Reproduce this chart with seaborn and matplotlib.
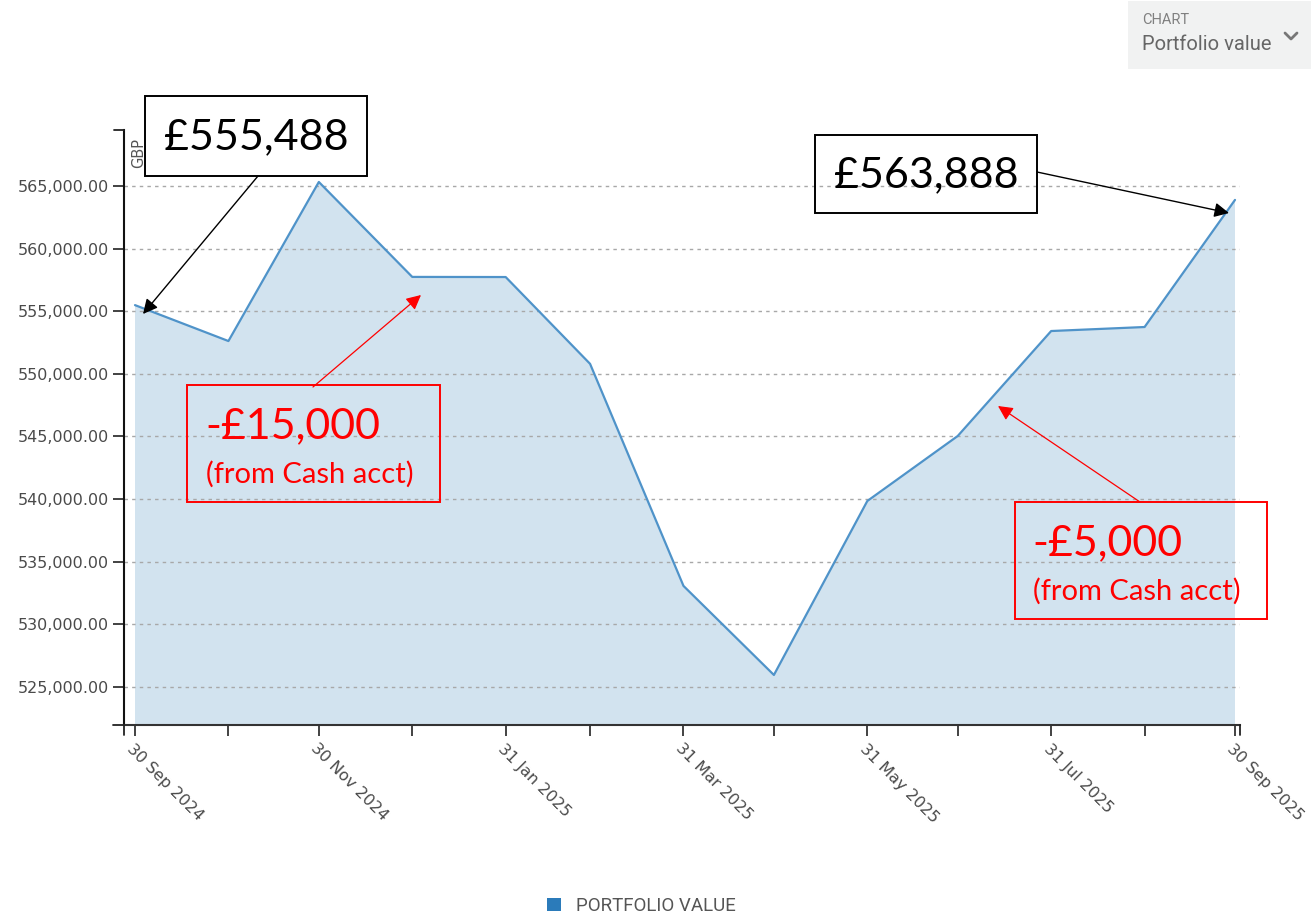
import pandas as pd
import numpy as np
import matplotlib.pyplot as plt
import matplotlib.dates as mdates
from matplotlib.patches import Rectangle, Patch, FancyArrowPatch
from matplotlib.lines import Line2D
import seaborn as sns

# Data (month-end portfolio value, GBP)
dates = ["2024-09-30", "2024-10-31", "2024-11-30", "2024-12-31", "2025-01-31",
         "2025-02-28", "2025-03-31", "2025-04-30", "2025-05-31", "2025-06-30",
         "2025-07-31", "2025-08-31", "2025-09-30"]
values = [555488, 552620, 565320, 557740, 557730,
          550800, 533070, 525960, 539850, 545040,
          553420, 553740, 563888]
major_ticks = ["2024-09-30", "2024-11-30", "2025-01-31", "2025-03-31",
               "2025-05-31", "2025-07-31", "2025-09-30"]
minor_ticks = ["2024-10-31", "2024-12-31", "2025-02-28", "2025-04-30",
               "2025-06-30", "2025-08-31"]
y_ticks = [525000, 530000, 535000, 540000, 545000, 550000, 555000, 560000, 565000]

df = pd.DataFrame({"date": pd.to_datetime(dates), "value": values})

sns.set_style("white")
plt.rcParams["font.family"] = ["Roboto", "DejaVu Sans"]

W, H = 1311, 918
fig = plt.figure(figsize=(W / 100, H / 100), dpi=100)


def fx(px):
    return px / W


def fy(py):
    return 1 - py / H


ax = fig.add_axes([fx(124), fy(725), fx(1240) - fx(124), fy(130) - fy(725)])

line_col = "#4f93c9"
fill_col = "#d2e3ef"

ax.fill_between(df["date"], df["value"], 0, color=fill_col, linewidth=0, zorder=1)
sns.lineplot(data=df, x="date", y="value", ax=ax, color=line_col, linewidth=1.6, zorder=2)

ax.set_ylim(521965, 569470)
ax.set_xlim(df["date"].iloc[0] - pd.Timedelta(days=3.65),
            df["date"].iloc[-1] + pd.Timedelta(days=1.66))

ax.set_yticks(y_ticks)
ax.set_yticklabels([f"{v:,.2f}" for v in y_ticks])
ax.set_xticks(pd.to_datetime(major_ticks))
ax.set_xticklabels([pd.Timestamp(d).strftime("%d %b %Y") for d in major_ticks])
ax.set_xticks(pd.to_datetime(minor_ticks), minor=True)

ax.set_axisbelow("line")
ax.yaxis.grid(True, linestyle=(0, (2.5, 3)), color="#a8a8a8", linewidth=1)
ax.xaxis.grid(False)

tick_font = "DejaVu Sans"
ax.tick_params(axis="y", which="major", length=8, width=1.2, color="#222222",
               labelsize=11.5, labelcolor="#4a4a4a", pad=3, direction="out", left=True)
ax.tick_params(axis="x", which="both", length=8, width=1.2, color="#222222",
               labelsize=11.5, labelcolor="#4a4a4a", bottom=True, direction="out")
for lbl in ax.get_yticklabels():
    lbl.set_family(tick_font)
for lbl in ax.get_xticklabels():
    lbl.set_family(tick_font)
    lbl.set_rotation(-45)
    lbl.set_ha("left")
    lbl.set_va("top")
    lbl.set_rotation_mode("anchor")

for s in ["top", "right"]:
    ax.spines[s].set_visible(False)
ax.spines["left"].set_color("#111111")
ax.spines["left"].set_linewidth(1.5)
ax.spines["bottom"].set_color("#333333")
ax.spines["bottom"].set_linewidth(1.5)
ax.set_xlabel("")
ax.set_ylabel("")

# d3-style outer ticks at the axis ends
ext = dict(color="#222222", linewidth=1.3, transform=fig.transFigure, clip_on=False)
fig.add_artist(Line2D([fx(113), fx(124)], [fy(725), fy(725)], **ext))
fig.add_artist(Line2D([fx(124), fx(124)], [fy(725), fy(735)], **ext))
fig.add_artist(Line2D([fx(114), fx(124)], [fy(130), fy(130)], **ext))
fig.add_artist(Line2D([fx(1240), fx(1240)], [fy(725), fy(735)], **ext))

fig.text(fx(139), fy(153), "GBP", rotation=90, ha="center", va="center",
         fontsize=10.5, color="#555555", family=tick_font)

# callout boxes
calibri = ["Lato", "DejaVu Sans"]


def box(x0, y0, x1, y1, col):
    fig.add_artist(Rectangle((fx(x0), fy(y1)), fx(x1) - fx(x0), fy(y0) - fy(y1),
                             transform=fig.transFigure, fill=False,
                             edgecolor=col, linewidth=1.4, zorder=5))


box(145, 96, 367, 176, "black")
fig.text(fx(256), fy(137), "£555,488", ha="center", va="center",
         fontsize=31, family=calibri, color="black")
box(815, 135, 1037, 213, "black")
fig.text(fx(926), fy(175), "£563,888", ha="center", va="center",
         fontsize=31, family=calibri, color="black")

box(187, 385, 440, 502, "#ff0000")
fig.text(fx(205), fy(426), "-£15,000", ha="left", va="center",
         fontsize=31, family=calibri, color="#ff0000")
fig.text(fx(206), fy(474), "(from Cash acct)", ha="left", va="center",
         fontsize=21, family=calibri, color="#ff0000")

box(1015, 502, 1267, 619, "#ff0000")
fig.text(fx(1032), fy(543), "-£5,000", ha="left", va="center",
         fontsize=31, family=calibri, color="#ff0000")
fig.text(fx(1033), fy(591), "(from Cash acct)", ha="left", va="center",
         fontsize=21, family=calibri, color="#ff0000")


def arrow(x0, y0, x1, y1, col, lw):
    fig.add_artist(FancyArrowPatch(
        (fx(x0), fy(y0)), (fx(x1), fy(y1)), transform=fig.transFigure,
        arrowstyle="-|>", mutation_scale=22, color=col, linewidth=lw,
        shrinkA=0, shrinkB=0, zorder=6))


arrow(258, 176, 143, 314, "black", 1.0)
arrow(1037, 172, 1229, 213, "black", 1.0)
arrow(313, 387, 421, 295, "#ff0000", 0.9)
arrow(1140, 502, 998, 406, "#ff0000", 0.9)

# top-right selector
fig.add_artist(Rectangle((fx(1128), fy(69)), fx(1311) - fx(1128), fy(1) - fy(69),
                         transform=fig.transFigure, facecolor="#f1f2f2",
                         edgecolor="none", zorder=0))
fig.text(fx(1142), fy(20), "CHART", ha="left", va="center", fontsize=10.5,
         color="#808080")
fig.text(fx(1142), fy(45), "Portfolio value", ha="left", va="center",
         fontsize=14.5, color="#666666")
fig.add_artist(Line2D([fx(1285), fx(1291), fx(1297)], [fy(33), fy(39), fy(33)],
                      transform=fig.transFigure, color="#777777", linewidth=2))

# legend
fig.legend(handles=[Patch(facecolor="#2b7bba", edgecolor="none")],
           labels=["PORTFOLIO VALUE"], loc="center",
           bbox_to_anchor=(fx(641), fy(906)), frameon=False,
           handlelength=0.75, handleheight=0.75, handletextpad=0.8,
           prop={"family": "Roboto", "size": 13.5}, labelcolor="#555555")

fig.savefig("out.png", dpi=100)
